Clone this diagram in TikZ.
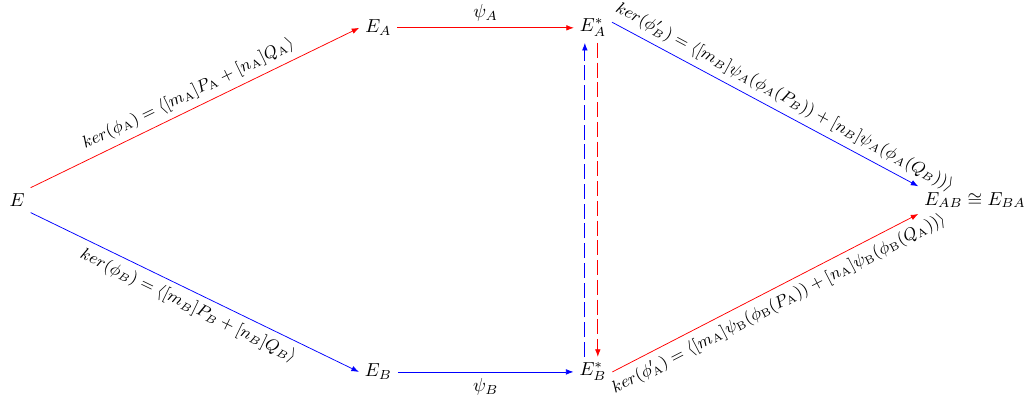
\documentclass[tikz,border=0pt]{standalone}
\usepackage{amsmath,amssymb}
\usepackage{tikz}
\usetikzlibrary{arrows.meta}

\begin{document}
\begin{tikzpicture}[
    obj/.style={inner sep=3pt},
    redmap/.style={red, -{Latex[length=4pt,width=3pt]}},
    bluemap/.style={blue, -{Latex[length=4pt,width=3pt]}},
    dualmap/.style={dash pattern=on 8pt off 2.5pt},
    lbl/.style={sloped, midway, text=black, font=\small}
  ]
  \useasboundingbox (0,0) rectangle (19.21,-7.59);

  %% Curves
  \node[obj] (e)   at (0.32,-3.74)  {$E$};
  \node[obj] (eA)  at (7.07,-0.52)  {$E_A$};
  \node[obj] (eAs) at (11.08,-0.52) {$E_A^*$};
  \node[obj] (eB)  at (7.07,-6.95)  {$E_B$};
  \node[obj] (eBs) at (11.08,-6.95) {$E_B^*$};
  \node[obj] (eAB) at (18.22,-3.74) {$E_{AB} \cong E_{BA}$};

  %% Isogenies from E
  \draw[redmap] (e.north east) -- (eA.west)
    node[lbl, above] {$ker(\phi_{\mathrm{A}}) = \langle [m_{\mathrm{A}}]P_{\mathrm{A}} + [n_{\mathrm{A}}]Q_{\mathrm{A}} \rangle$};
  \draw[bluemap] (e.south east) -- (eB.west)
    node[lbl, below] {$ker(\phi_B) = \langle [m_B]P_B + [n_B]Q_B \rangle$};

  %% Horizontal maps
  \draw[redmap] (eA) -- (eAs) node[midway, above, text=black] {$\psi_A$};
  \draw[bluemap] (eB) -- (eBs) node[midway, below, text=black] {$\psi_B$};

  %% Exchange
  \draw[bluemap, dualmap] ([xshift=-4.3pt]eBs.north) -- ([xshift=-4.3pt]eAs.south);
  \draw[redmap, dualmap] ([xshift=2.6pt]eAs.south) -- ([xshift=2.6pt]eBs.north);

  %% Shared curve
  \draw[bluemap] ([yshift=3pt]eAs.east) -- (eAB.north west)
    node[lbl, above, pos=0.54] {$ker(\phi'_B) = \langle [m_B]\psi_A(\phi_A(P_B)) + [n_B]\psi_A(\phi_A(Q_B)) \rangle$};
  \draw[redmap] (eBs.east) -- (eAB.south west)
    node[lbl, below, pos=0.52] {$ker(\phi'_{\mathrm{A}}) = \langle [m_{\mathrm{A}}]\psi_{\mathrm{B}}(\phi_{\mathrm{B}}(P_{\mathrm{A}})) + [n_{\mathrm{A}}]\psi_{\mathrm{B}}(\phi_{\mathrm{B}}(Q_{\mathrm{A}})) \rangle$};

\end{tikzpicture}
\end{document}
